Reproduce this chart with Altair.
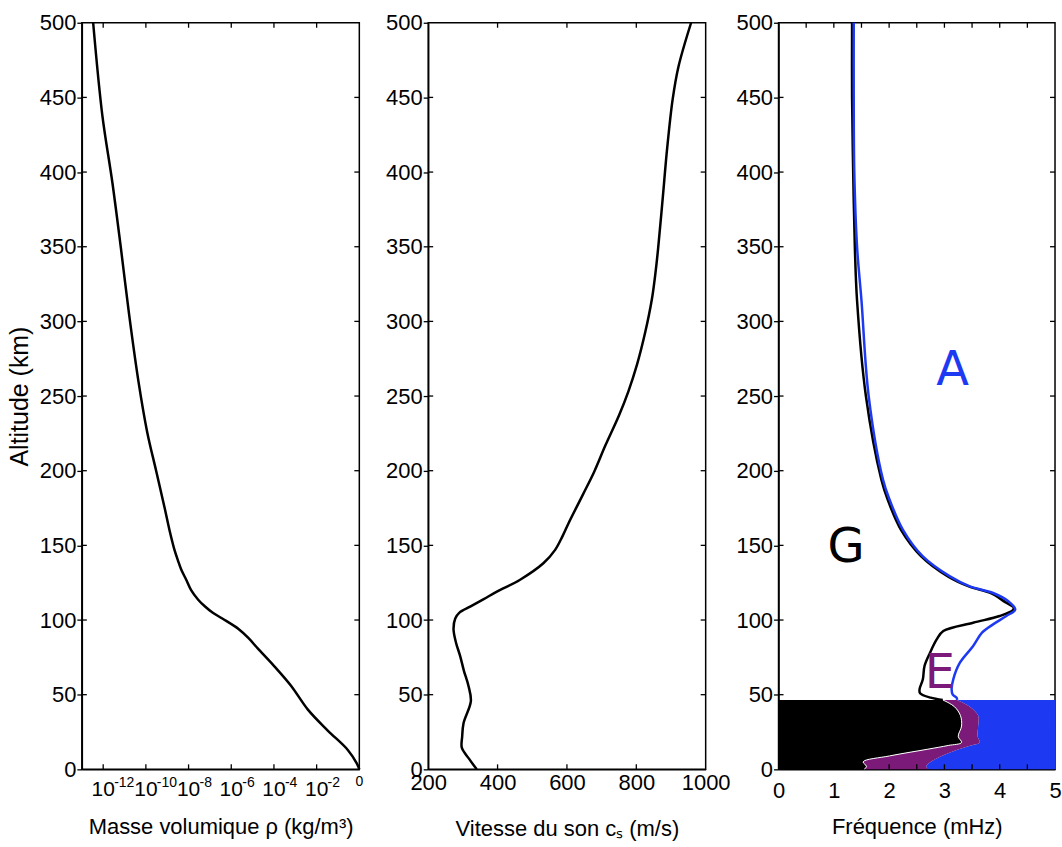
import altair as alt
import pandas as pd

FONT = "Liberation Sans"
BLUE = "#1d3af2"
PURPLE = "#7b1a78"
W1, W2, W3, H = 278, 278, 277, 748

# ---------- shared altitude axis ----------
alt_ticks = [0, 50, 100, 150, 200, 250, 300, 350, 400, 450, 500]
alt_inner = [50, 100, 150, 200, 250, 300, 350, 400, 450]

# ---------- panel 1 : density (log10 of rho) ----------
rho_alt = [0, 4, 13, 26, 40, 56, 69, 81, 88, 94, 101, 105, 109.2, 113.6, 120, 127, 134, 140, 147, 160, 175, 200,
           226, 260, 304, 349, 393, 438, 500]
rho_exp = [0.0, -0.12, -0.54, -1.48, -2.41, -3.20, -3.98, -4.76, -5.20, -5.66, -6.42, -6.88, -7.24, -7.55, -7.88,
           -8.11, -8.35, -8.50, -8.66, -8.89, -9.12, -9.52, -9.94, -10.35, -10.78, -11.17, -11.57, -12.04, -12.47]
rho_tick_exp = [-12, -10, -8, -6, -4, -2, 0]
rho_tick_base = ["10", "10", "10", "10", "10", "10", ""]
rho_tick_sup = ["-12", "-10", "-8", "-6", "-4", "-2", "0"]

# ---------- panel 2 : sound speed ----------
cs_alt = [0, 7, 14.5, 22, 31, 45.7, 56, 66, 76, 85, 94, 101, 105, 109, 114, 119, 127, 138, 147, 156, 165, 184,
          199, 217, 237, 253, 271, 293, 315, 332, 349, 382, 416, 449, 471, 500]
cs_val = [340, 318, 297, 298, 302, 323, 316, 303, 292, 280, 273, 278, 290, 321, 360, 398, 465, 532, 566, 587, 605,
          646, 678, 711, 750, 777, 802, 826, 845, 855, 863, 876, 889, 905, 922, 958]
cs_ticks = [200, 400, 600, 800, 1000]
cs_inner = [400, 600, 800]

# ---------- panel 3 : frequencies ----------
low_alt = [0, 2, 5, 9, 13.5, 16, 18, 22, 29, 36, 42, 46.5]
black_low = [1.55, 1.59, 1.53, 2.01, 2.70, 3.07, 3.31, 3.25, 3.31, 3.29, 3.18, 2.97]
blue_low = [2.72, 2.67, 2.75, 2.95, 3.26, 3.48, 3.64, 3.60, 3.61, 3.61, 3.46, 3.23]

black_hi_alt = [46.5, 48, 51, 53.6, 60.3, 69.2, 78.1, 87, 92.6, 98.2, 102.7, 106.7, 108.5, 112, 118, 122.5, 129,
                142.6, 160, 180, 194, 250, 314, 350, 400, 450, 500]
black_hi = [2.97, 2.75, 2.56, 2.55, 2.61, 2.64, 2.74, 2.86, 2.98, 3.52, 4.00, 4.24, 4.25, 4.10, 3.84, 3.44, 3.07,
            2.58, 2.22, 1.98, 1.86, 1.58, 1.42, 1.38, 1.35, 1.33, 1.33]
blue_hi_alt = [46.5, 48, 50, 53.6, 60.3, 71.4, 82.6, 91.5, 97.1, 102.7, 107, 112.7, 118.1, 122.5, 129.2, 142.6,
               160.4, 180.5, 193.9, 250, 314, 350, 400, 450, 500]
blue_hi = [3.23, 3.22, 3.15, 3.13, 3.16, 3.28, 3.52, 3.68, 3.88, 4.12, 4.28, 4.15, 3.88, 3.46, 3.10, 2.61,
           2.25, 2.01, 1.89, 1.63, 1.50, 1.42, 1.37, 1.36, 1.36]
f_ticks = [0, 1, 2, 3, 4, 5]
f_inner = [0.5, 1, 1.5, 2, 2.5, 3, 3.5, 4, 4.5]

region_text = ["A", "G", "E"]
region_f = [3.15, 1.22, 2.92]
region_alt = [267, 148, 63.5]
region_color = [BLUE, "black", PURPLE]

# ---------- helpers ----------
ys = alt.Scale(domain=[0, 500], nice=False, zero=False)
yax1 = alt.Axis(values=alt_ticks, title="Altitude (km)", tickSize=5, labelPadding=1, titlePadding=7,
                titleFontSize=25)
yaxN = alt.Axis(values=alt_ticks, title=None, tickSize=5, labelPadding=1)


def inner_ticks(xvals, xfield_scale, xaxis, yaxis, w, h):
    dx = pd.DataFrame({"v": xvals})
    dy = pd.DataFrame({"v": alt_inner})
    rx = alt.Chart(dx).mark_rule(color="black", strokeWidth=1.3)
    ry = alt.Chart(dy).mark_rule(color="black", strokeWidth=1.3)
    xe = alt.X("v:Q", scale=xfield_scale, axis=xaxis)
    ye = alt.Y("v:Q", scale=ys, axis=yaxis)
    return [
        rx.encode(x=xe, y=alt.value(h), y2=alt.value(h - 5)),
        rx.encode(x=xe, y=alt.value(0), y2=alt.value(5)),
        ry.encode(y=ye, x=alt.value(0), x2=alt.value(5)),
        ry.encode(y=ye, x=alt.value(w - 5), x2=alt.value(w)),
    ]


# ---------- panel 1 ----------
df1 = pd.DataFrame({"alt": rho_alt, "rho": [10.0 ** e for e in rho_exp]})
xs1 = alt.Scale(type="log", domain=[1e-13, 1], nice=False)
rho_tick_vals = [10.0 ** e for e in rho_tick_exp]
xax1 = alt.Axis(values=rho_tick_vals, labels=False, ticks=False,
                title="Masse volumique ρ (kg/m³)", titlePadding=47)

line1 = alt.Chart(df1).mark_line(color="black", strokeWidth=2.5, interpolate="catmull-rom").encode(
    x=alt.X("rho:Q", scale=xs1, axis=xax1),
    y=alt.Y("alt:Q", scale=ys, axis=yax1),
    order=alt.Order("alt:Q"),
)
dlab = pd.DataFrame({"rho": rho_tick_vals, "base": rho_tick_base, "sup": rho_tick_sup})
base_lab = alt.Chart(dlab.iloc[:-1]).mark_text(
    font=FONT, fontSize=21, baseline="alphabetic", align="center", color="black").encode(
    x=alt.X("rho:Q", scale=xs1, axis=xax1), y=alt.value(H + 27), text="base:N")
sup_lab = alt.Chart(dlab.iloc[:-1]).mark_text(
    font=FONT, fontSize=14, baseline="alphabetic", align="left", dx=11, color="black").encode(
    x=alt.X("rho:Q", scale=xs1, axis=xax1), y=alt.value(H + 18), text="sup:N")
zero_lab = alt.Chart(dlab.iloc[-1:]).mark_text(
    font=FONT, fontSize=14, baseline="alphabetic", align="center", color="black").encode(
    x=alt.X("rho:Q", scale=xs1, axis=xax1), y=alt.value(H + 17), text="sup:N")
p1 = alt.layer(line1, base_lab, sup_lab, zero_lab,
               *inner_ticks(rho_tick_vals[:-1], xs1, xax1, yax1, W1, H)).properties(width=W1, height=H)

# ---------- panel 2 ----------
df2 = pd.DataFrame({"alt": cs_alt, "cs": cs_val})
xs2 = alt.Scale(domain=[200, 1000], nice=False, zero=False)
xax2 = alt.Axis(values=cs_ticks, format="d", ticks=False, labelPadding=3, title="Vitesse du son cₛ (m/s)",
                titlePadding=25)
line2 = alt.Chart(df2).mark_line(color="black", strokeWidth=2.5, interpolate="catmull-rom").encode(
    x=alt.X("cs:Q", scale=xs2, axis=xax2),
    y=alt.Y("alt:Q", scale=ys, axis=yaxN),
    order=alt.Order("alt:Q"),
)
p2 = alt.layer(line2, *inner_ticks(cs_inner, xs2, xax2, yaxN, W2, H)).properties(width=W2, height=H)

# ---------- panel 3 ----------
xs3 = alt.Scale(domain=[0, 5], nice=False, zero=False)
xax3 = alt.Axis(values=f_ticks, format="d", ticks=False, labelPadding=11, title="Fréquence (mHz)", titlePadding=15)
dlow = pd.DataFrame({"alt": low_alt, "black": black_low, "blue": blue_low})
dbh = pd.DataFrame({"alt": black_hi_alt, "f": black_hi})
dblh = pd.DataFrame({"alt": blue_hi_alt, "f": blue_hi})
dtxt = pd.DataFrame({"f": region_f, "alt": region_alt, "t": region_text, "c": region_color})

Y3 = alt.Y("alt:Q", scale=ys, axis=yaxN)

blue_fill = alt.Chart(dlow).mark_area(orient="horizontal", color=BLUE, interpolate="catmull-rom").encode(
    y=Y3, x=alt.X("blue:Q", scale=xs3, axis=xax3), x2=alt.datum(5))
purple_fill = alt.Chart(dlow).mark_area(orient="horizontal", color=PURPLE, interpolate="catmull-rom").encode(
    y=Y3, x=alt.X("black:Q", scale=xs3, axis=xax3), x2="blue:Q")
black_fill = alt.Chart(dlow).mark_area(orient="horizontal", color="black", interpolate="catmull-rom").encode(
    y=Y3, x=alt.X("black:Q", scale=xs3, axis=xax3), x2=alt.datum(0))
white_edge = alt.Chart(dlow).mark_line(color="white", strokeWidth=1, interpolate="catmull-rom").encode(
    y=Y3, x=alt.X("black:Q", scale=xs3, axis=xax3), order=alt.Order("alt:Q"))
black_line = alt.Chart(dbh).mark_line(color="black", strokeWidth=2.5, interpolate="catmull-rom").encode(
    y=Y3, x=alt.X("f:Q", scale=xs3, axis=xax3), order=alt.Order("alt:Q"))
blue_line = alt.Chart(dblh).mark_line(color=BLUE, strokeWidth=2.5, interpolate="catmull-rom").encode(
    y=Y3, x=alt.X("f:Q", scale=xs3, axis=xax3), order=alt.Order("alt:Q"))
labels = alt.Chart(dtxt).mark_text(font="DejaVu Sans", fontSize=48, align="center", baseline="middle").encode(
    x=alt.X("f:Q", scale=xs3, axis=xax3), y=Y3, text="t:N", color=alt.Color("c:N", scale=None))

p3 = alt.layer(blue_fill, purple_fill, black_fill, white_edge, black_line, blue_line, labels,
               *inner_ticks(f_inner, xs3, xax3, yaxN, W3, H)).properties(width=W3, height=H)

chart = alt.hconcat(
    alt.hconcat(p1, p2, spacing=19),
    p3, spacing=3,
).properties(
    padding={"left": 6, "top": 10, "right": 0, "bottom": 0},
    background="white",
).configure_axis(
    labelFont=FONT, titleFont=FONT, labelFontSize=22, titleFontSize=22, titleFontWeight="normal",
    labelColor="black", titleColor="black", domainColor="black", tickColor="black", domainWidth=1.5,
    tickWidth=1.3, grid=False, labelFlush=False, labelOverlap=False,
).configure_view(stroke="black", strokeWidth=1.5)

chart.save("out.html", embed_options={"renderer": "svg", "actions": False})
